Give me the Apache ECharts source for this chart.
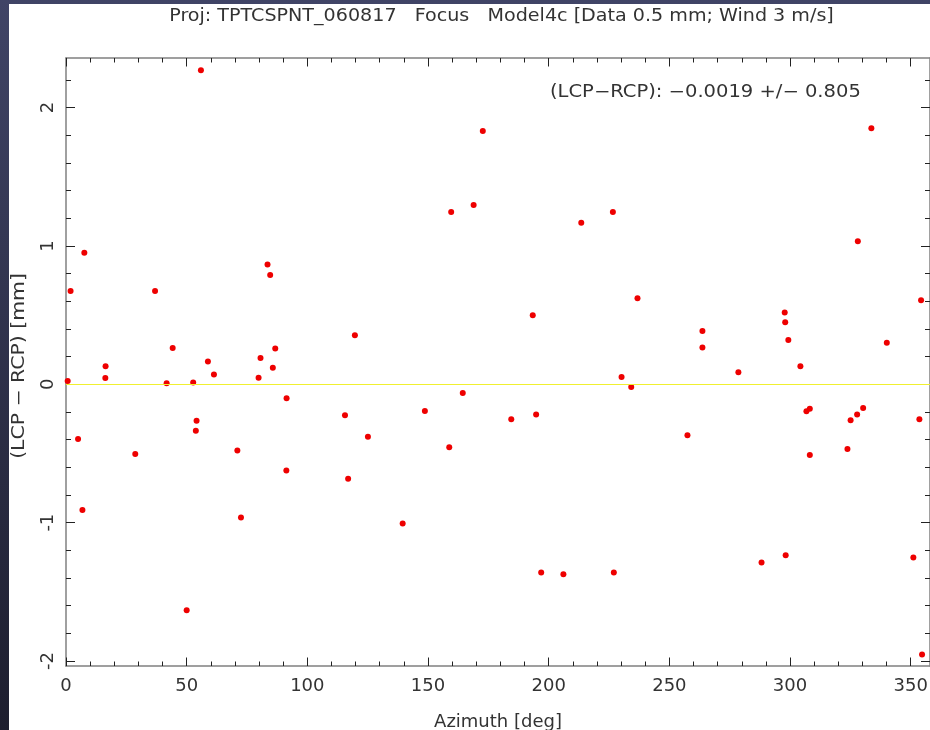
<!DOCTYPE html>
<html>
<head>
<meta charset="utf-8">
<script src="https://cdn.jsdelivr.net/npm/echarts@6/dist/echarts.min.js"></script>
<style>
html,body{margin:0;padding:0;}
#bg{position:absolute;left:0;top:0;width:930px;height:730px;background:linear-gradient(to bottom,#404466,#1d1e2e);}
#paper{position:absolute;left:9px;top:4px;width:921px;height:726px;background:#ffffff;}
#chart{position:absolute;left:0;top:0;width:930px;height:730px;}
</style>
</head>
<body>
<div id="bg"></div>
<div id="paper"></div>
<div id="chart"></div>
<script>
// Data
const azimuth = [0.7,1.9,5.0,6.8,7.6,16.3,16.4,28.7,36.9,41.7,44.2,50.0,52.7,53.8,54.1,55.9,58.8,61.3,71.0,72.5,79.8,80.6,83.5,84.6,85.7,86.7,91.3,91.4,115.6,116.9,119.7,125.1,139.5,148.7,158.8,159.6,164.4,168.9,172.7,184.5,193.4,194.8,196.9,206.1,213.5,226.6,227.0,230.2,234.2,236.8,257.5,263.7,263.7,278.6,288.2,297.8,298.0,298.2,299.3,304.3,306.8,308.2,308.2,323.8,325.1,327.8,328.1,330.3,333.7,340.1,351.1,353.6,354.3,354.7];
const lcpMinusRcp = [0.024,0.674,-0.395,-0.908,0.951,0.046,0.13,-0.503,0.674,0.007,0.262,-1.633,0.012,-0.335,-0.263,2.269,0.164,0.07,-0.479,-0.963,0.048,0.19,0.865,0.79,0.12,0.258,-0.624,-0.101,-0.224,-0.682,0.354,-0.38,-1.007,-0.193,-0.455,1.245,-0.063,1.296,1.83,-0.253,0.499,-0.219,-1.361,-1.373,1.168,1.245,-1.361,0.053,-0.019,0.621,-0.368,0.385,0.265,0.087,-1.288,0.518,0.448,-1.236,0.32,0.13,-0.195,-0.176,-0.511,-0.467,-0.26,-0.219,1.033,-0.171,1.85,0.301,-1.252,-0.253,0.607,-1.953];
const xTicks = [0,50,100,150,200,250,300,350];
const yTicks = [-2,-1,0,1,2];
const yMinorTicks = [-1.8,-1.6,-1.4,-1.2,-0.8,-0.6,-0.4,-0.2,0.2,0.4,0.6,0.8,1.2,1.4,1.6,1.8,2.2];
const titleText = 'Proj: TPTCSPNT_060817   Focus   Model4c [Data 0.5 mm; Wind 3 m/s]';
const statText = '(LCP\u2212RCP): \u22120.0019 +/\u2212 0.805';
const xName = 'Azimuth [deg]';
const yName = '(LCP \u2212 RCP) [mm]';

const FONT = 'DejaVu Sans';
const TXT = '#333333';
const AXC = '#808080';
const TK = '#222222';

const chart = echarts.init(document.getElementById('chart'), null, {renderer:'canvas'});
const pts = azimuth.map((a,i)=>[a, lcpMinusRcp[i]]);

const YMIN = -2.036, YMAX = 2.358;

const xBase = {
  type:'value', min:0, max:358, interval:50,
  splitLine:{show:false},
  minorTick:{show:true, splitNumber:5, length:4.5, lineStyle:{color:TK}},
  axisTick:{inside:true, length:8.5, lineStyle:{color:TK}},
  axisLine:{show:true, onZero:false, lineStyle:{color:AXC, width:1.5}}
};
const yMajorBase = {
  type:'value', min:YMIN, max:YMAX,
  splitLine:{show:false},
  axisLine:{show:true, onZero:false, lineStyle:{color:AXC, width:1.5}},
  axisTick:{show:true, inside:true, length:9, customValues:yTicks, lineStyle:{color:TK}}
};
const yMinorBase = {
  type:'value', min:YMIN, max:YMAX,
  splitLine:{show:false},
  axisLine:{show:false, onZero:false},
  axisLabel:{show:false},
  axisTick:{show:true, inside:true, length:5, customValues:yMinorTicks, lineStyle:{color:TK}}
};

chart.setOption({
  animation:false,
  backgroundColor:'transparent',
  grid:{left:66, top:58, width:864, height:608, containLabel:false, outerBoundsMode:'none'},
  graphic:[
    {type:'text', x:501.5, y:17, scaleX:1.124,
     style:{text:titleText, font:'17px "DejaVu Sans"', fill:TXT, align:'center', verticalAlign:'middle'}},
    {type:'text', x:550, y:93, scaleX:1.148,
     style:{text:statText, font:'17px "DejaVu Sans"', fill:TXT, align:'left', verticalAlign:'middle'}},
    {type:'text', x:20, y:366, rotation:Math.PI/2, scaleX:1.2,
     style:{text:yName, font:'17px "DejaVu Sans"', fill:TXT, align:'center', verticalAlign:'middle'}}
  ],
  xAxis:[
    Object.assign({}, xBase, {
      position:'bottom',
      name:xName, nameLocation:'middle', nameGap:47,
      nameTextStyle:{fontFamily:FONT, fontSize:18, color:TXT},
      axisLabel:{show:true, showMaxLabel:false, margin:11, fontFamily:FONT, fontSize:18, color:TXT}
    }),
    Object.assign({}, xBase, {
      position:'top',
      axisLabel:{show:false}
    })
  ],
  yAxis:[
    Object.assign({}, yMajorBase, {
      position:'left',
      axisLabel:{show:true, customValues:yTicks, rotate:90, margin:9, fontFamily:FONT, fontSize:18, color:TXT}
    }),
    Object.assign({}, yMinorBase, {position:'left'}),
    Object.assign({}, yMajorBase, {position:'right', axisLabel:{show:false}}),
    Object.assign({}, yMinorBase, {position:'right'})
  ],
  series:[{
    type:'scatter', xAxisIndex:0, yAxisIndex:0,
    data:pts, symbol:'circle', symbolSize:6,
    itemStyle:{color:'#ee0000', opacity:1},
    markLine:{
      silent:true, symbol:['none','none'], label:{show:false},
      lineStyle:{color:'#f0f030', width:1.2, type:'solid'},
      data:[{yAxis:0}]
    }
  }]
});
</script>
</body>
</html>
